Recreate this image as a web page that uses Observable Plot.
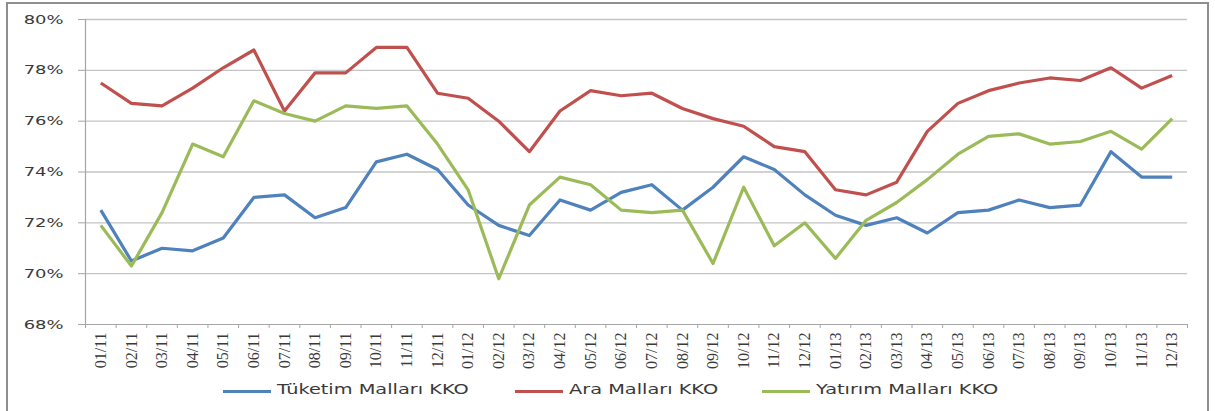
<!DOCTYPE html>
<html>
<head>
<meta charset="utf-8">
<script src="https://cdn.jsdelivr.net/npm/d3@7"></script>
<script src="https://cdn.jsdelivr.net/npm/@observablehq/plot@0.6"></script>
<style>
  html, body { margin: 0; padding: 0; background: #fff; }
  body { width: 1215px; height: 411px; position: relative; overflow: hidden; }
  #frame { position: absolute; left: 6px; top: 2px; width: 1203px; height: 430px; border: 2px solid #8e8e8e; box-sizing: border-box; }
  #chart { position: absolute; left: 0; top: 0; }
  .leg { position: absolute; top: 380px; height: 20px; font-family: "DejaVu Sans", sans-serif; font-size: 14px; color: #3a3a3a; }
  .leg .sw { position: absolute; left: 0; top: 10px; width: 48px; height: 3px; }
  .leg .tx { position: absolute; left: 54px; top: 1px; white-space: nowrap; transform: scaleX(1.38); transform-origin: 0 0; }
</style>
</head>
<body>
<div id="frame"></div>
<div id="chart"></div>
<div id="legend"></div>
<script>
const months = ["01/11","02/11","03/11","04/11","05/11","06/11","07/11","08/11","09/11","10/11","11/11","12/11",
                "01/12","02/12","03/12","04/12","05/12","06/12","07/12","08/12","09/12","10/12","11/12","12/12",
                "01/13","02/13","03/13","04/13","05/13","06/13","07/13","08/13","09/13","10/13","11/13","12/13"];
const tuketim = [72.5,70.5,71.0,70.9,71.4,73.0,73.1,72.2,72.6,74.4,74.7,74.1,
                 72.7,71.9,71.5,72.9,72.5,73.2,73.5,72.5,73.4,74.6,74.1,73.1,
                 72.3,71.9,72.2,71.6,72.4,72.5,72.9,72.6,72.7,74.8,73.8,73.8];
const ara = [77.5,76.7,76.6,77.3,78.1,78.8,76.4,77.9,77.9,78.9,78.9,77.1,
             76.9,76.0,74.8,76.4,77.2,77.0,77.1,76.5,76.1,75.8,75.0,74.8,
             73.3,73.1,73.6,75.6,76.7,77.2,77.5,77.7,77.6,78.1,77.3,77.8];
const yatirim = [71.9,70.3,72.4,75.1,74.6,76.8,76.3,76.0,76.6,76.5,76.6,75.1,
                 73.3,69.8,72.7,73.8,73.5,72.5,72.4,72.5,70.4,73.4,71.1,72.0,
                 70.6,72.1,72.8,73.7,74.7,75.4,75.5,75.1,75.2,75.6,74.9,76.1];
const seriesNames = ["Tüketim Malları KKO", "Ara Malları KKO", "Yatırım Malları KKO"];
const seriesValues = [tuketim, ara, yatirim];
const seriesColors = ["#4F81BD", "#C0504D", "#9BBB59"];
const yTicks = [68, 70, 72, 74, 76, 78, 80];

const data = [];
seriesNames.forEach((name, s) => {
  seriesValues[s].forEach((v, i) => data.push({i, month: months[i], series: name, value: v}));
});
const centers = months.map((_, i) => i);
const bounds = months.map((_, i) => i - 0.5).concat([months.length - 0.5]);

const chart = Plot.plot({
  width: 1215,
  height: 372,
  marginLeft: 85,
  marginRight: 28,
  marginTop: 19,
  marginBottom: 48,
  style: {fontFamily: "DejaVu Sans, sans-serif", fontSize: "13px", background: "transparent", overflow: "visible"},
  x: {type: "linear", domain: [-0.5, months.length - 0.5]},
  y: {domain: [68, 80]},
  color: {domain: seriesNames, range: seriesColors},
  marks: [
    Plot.ruleY(yTicks.slice(1), {stroke: "#c4c4c4", strokeWidth: 1.3}),
    Plot.axisY({ticks: yTicks, tickSize: 7, tickPadding: 15, tickFormat: d => d + "%", label: null,
                stroke: "#a6a6a6", fill: "#3a3a3a", fontSize: 13}),
    Plot.axisX({ticks: bounds, tickSize: 4, tickFormat: () => "", label: null, stroke: "#a6a6a6"}),
    Plot.axisX({ticks: centers, tickSize: 0, tickPadding: 8, tickRotate: -90, tickFormat: i => months[i],
                label: null, fill: "#3a3a3a", fontFamily: "Liberation Serif, serif", fontSize: 16}),
    Plot.ruleX([-0.5], {stroke: "#a6a6a6", strokeWidth: 1.2}),
    Plot.ruleY([68], {stroke: "#a6a6a6", strokeWidth: 1.2}),
    Plot.lineY(data, {x: "i", y: "value", z: "series", stroke: "series", strokeWidth: 3.2,
                      strokeLinejoin: "round", strokeLinecap: "butt"})
  ]
});
document.getElementById("chart").appendChild(chart);

// horizontally stretched y tick labels as in the reference
chart.querySelectorAll('g[aria-label="y-axis tick label"] text').forEach(t => {
  const tr = t.getAttribute("transform") || "";
  t.setAttribute("transform", tr + " scale(1.38,1)");
});

const legendLefts = [223, 515, 762];
const legend = document.getElementById("legend");
seriesNames.forEach((name, s) => {
  const item = document.createElement("div");
  item.className = "leg";
  item.style.left = legendLefts[s] + "px";
  const sw = document.createElement("div");
  sw.className = "sw";
  sw.style.background = seriesColors[s];
  const tx = document.createElement("span");
  tx.className = "tx";
  tx.textContent = name;
  item.appendChild(sw);
  item.appendChild(tx);
  legend.appendChild(item);
});
</script>
</body>
</html>
